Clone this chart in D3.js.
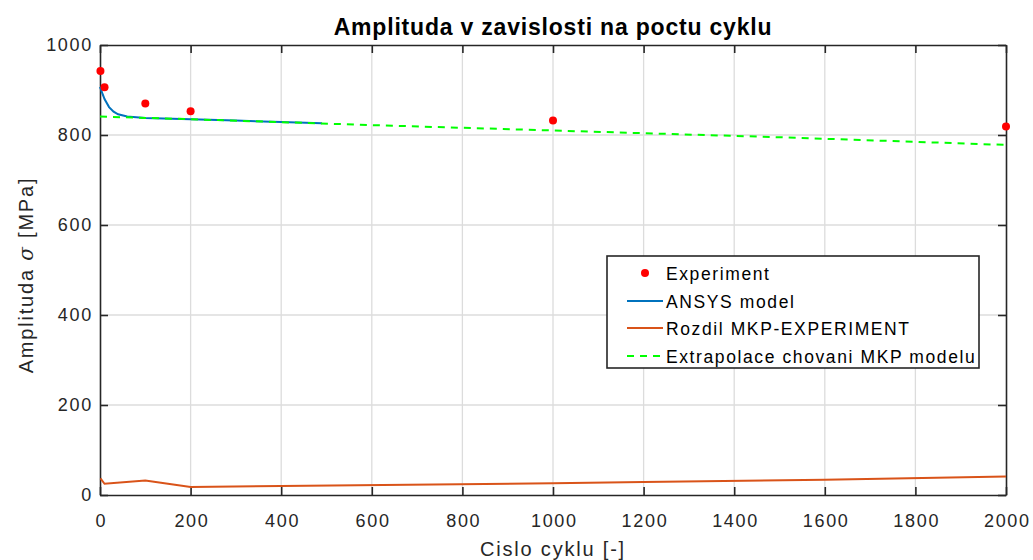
<!DOCTYPE html>
<html>
<head>
<meta charset="utf-8">
<script src="https://cdn.jsdelivr.net/npm/d3@7"></script>
<style>
body { margin:0; background:#fff; }
text { font-family: "Liberation Sans", Arial, sans-serif; }
</style>
</head>
<body>
<svg id="chart" width="1033" height="560"></svg>
<script>
// experiment points
var expX = [1, 10, 100, 200, 1000, 2000];
var expY = [942, 906, 870, 853, 832, 819];
// ANSYS model
var ansysX = [0, 5, 10, 20, 30, 40, 60, 100, 200, 300, 400, 490];
var ansysY = [907, 893, 880, 862, 852, 846, 841, 838, 835, 832, 829, 826];
// rozdil MKP - experiment
var rozX = [1, 10, 100, 200, 400, 1000, 1200, 1600, 2000];
var rozY = [37, 25, 32, 18, 20, 26, 29, 34, 41];
// extrapolace
var extX = [0, 200, 600, 800, 1000, 1500, 2000];
var extY = [841, 835, 822, 816, 810, 795, 778];

var xTicks = [0, 200, 400, 600, 800, 1000, 1200, 1400, 1600, 1800, 2000];
var yTicks = [0, 200, 400, 600, 800, 1000];

var legendItems = ["Experiment", "ANSYS model", "Rozdil MKP-EXPERIMENT", "Extrapolace chovani MKP modelu"];

var svg = d3.select('#chart');
var pLeft = 100, pRight = 1006, pTop = 45, pBottom = 495;

var x = d3.scaleLinear().domain([0, 2000]).range([pLeft, pRight]);
var y = d3.scaleLinear().domain([0, 1000]).range([pBottom, pTop]);

// grid
svg.append('g').selectAll('line').data(xTicks.slice(1, -1))
  .enter().append('line')
  .attr('x1', function(d){ return x(d); }).attr('x2', function(d){ return x(d); })
  .attr('y1', pTop).attr('y2', pBottom)
  .attr('stroke', '#dcdcdc').attr('stroke-width', 1.3);
svg.append('g').selectAll('line').data(yTicks.slice(1, -1))
  .enter().append('line')
  .attr('x1', pLeft).attr('x2', pRight)
  .attr('y1', function(d){ return y(d); }).attr('y2', function(d){ return y(d); })
  .attr('stroke', '#dcdcdc').attr('stroke-width', 1.3);

// axes
var fmt = d3.format('d');
var xAxis = d3.axisBottom(x).tickValues(xTicks).tickFormat(fmt).tickSizeInner(-8).tickSizeOuter(0).tickPadding(19);
var yAxis = d3.axisLeft(y).tickValues(yTicks).tickFormat(fmt).tickSizeInner(-8).tickSizeOuter(0).tickPadding(7);
svg.append('g').attr('class', 'xax').attr('transform', 'translate(0,' + pBottom + ')').call(xAxis);
svg.append('g').attr('transform', 'translate(' + pLeft + ',0)').call(yAxis);
svg.append('g').attr('transform', 'translate(0,' + pTop + ')')
  .call(d3.axisTop(x).tickValues(xTicks).tickSizeInner(-8).tickSizeOuter(0).tickFormat(''));
svg.append('g').attr('transform', 'translate(' + pRight + ',0)')
  .call(d3.axisRight(y).tickValues(yTicks).tickSizeInner(-8).tickSizeOuter(0).tickFormat(''));
svg.selectAll('.domain').attr('stroke', '#262626').attr('stroke-width', 1.6);
svg.selectAll('.tick line').attr('stroke', '#262626').attr('stroke-width', 1.6);
svg.selectAll('.tick text').attr('fill', '#262626').style('font-size', '18px')
  .style('letter-spacing', '1.7px')
  .style('font-family', '"Liberation Sans", Arial, sans-serif');
svg.selectAll('.xax .tick text').attr('dx', '0.85px');

function pts(xs, ys){ return xs.map(function(d, i){ return [d, ys[i]]; }); }
var line = d3.line().x(function(d){ return x(d[0]); }).y(function(d){ return y(d[1]); });

svg.append('path').datum(pts(ansysX, ansysY)).attr('d', line)
  .attr('fill', 'none').attr('stroke', '#0072BD').attr('stroke-width', 2);
svg.append('path').datum(pts(rozX, rozY)).attr('d', line)
  .attr('fill', 'none').attr('stroke', '#D95319').attr('stroke-width', 2);
svg.append('path').datum(pts(extX, extY)).attr('d', line)
  .attr('fill', 'none').attr('stroke', '#00FF00').attr('stroke-width', 2)
  .attr('stroke-dasharray', '7,6');
svg.append('g').selectAll('circle').data(pts(expX, expY))
  .enter().append('circle')
  .attr('cx', function(d){ return x(d[0]); })
  .attr('cy', function(d){ return y(d[1]); })
  .attr('r', 4).attr('fill', '#FF0000');

// title and labels
svg.append('text').attr('x', 553).attr('y', 35).attr('text-anchor', 'middle')
  .style('font-size', '23px').style('font-weight', 'bold').style('letter-spacing', '0.8px')
  .attr('fill', '#000')
  .text('Amplituda v zavislosti na poctu cyklu');
svg.append('text').attr('x', 553).attr('y', 556).attr('text-anchor', 'middle')
  .style('font-size', '20px').style('letter-spacing', '1.8px')
  .attr('fill', '#262626').text('Cislo cyklu [-]');
var yl = svg.append('text').attr('transform', 'translate(33,275) rotate(-90)')
  .attr('text-anchor', 'middle').style('font-size', '20px').style('letter-spacing', '1.8px')
  .attr('fill', '#262626');
yl.append('tspan').text('Amplituda ');
yl.append('tspan').style('font-style', 'italic').style('font-family', '"DejaVu Serif", serif').text('σ');
yl.append('tspan').text(' [MPa]');

// legend
var lg = svg.append('g');
lg.append('rect').attr('x', 607).attr('y', 256).attr('width', 372).attr('height', 112)
  .attr('fill', '#fff').attr('stroke', '#262626').attr('stroke-width', 1.6);
var ly = [273, 301, 328, 356];
lg.append('circle').attr('cx', 645).attr('cy', ly[0]).attr('r', 4).attr('fill', '#FF0000');
lg.append('line').attr('x1', 627).attr('x2', 663).attr('y1', ly[1]).attr('y2', ly[1])
  .attr('stroke', '#0072BD').attr('stroke-width', 2);
lg.append('line').attr('x1', 627).attr('x2', 663).attr('y1', ly[2]).attr('y2', ly[2])
  .attr('stroke', '#D95319').attr('stroke-width', 2);
lg.append('line').attr('x1', 627).attr('x2', 663).attr('y1', ly[3]).attr('y2', ly[3])
  .attr('stroke', '#00FF00').attr('stroke-width', 2).attr('stroke-dasharray', '7,6');
lg.selectAll('text.leg').data(legendItems).enter().append('text')
  .attr('class', 'leg').attr('x', 666)
  .attr('y', function(d, i){ return ly[i] + 6.5; })
  .style('font-size', '17.5px').style('letter-spacing', '1.6px').attr('fill', '#000')
  .text(function(d){ return d; });
</script>
</body>
</html>
